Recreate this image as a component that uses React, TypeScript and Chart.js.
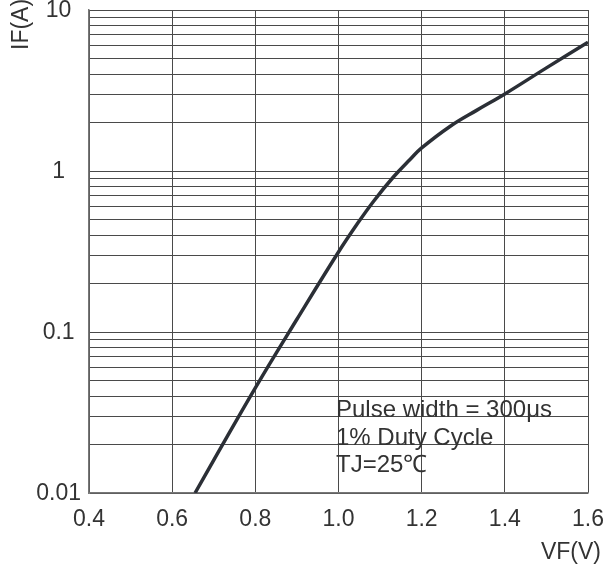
import React, { useEffect, useRef } from "react";
import { Chart, registerables } from "chart.js";

Chart.register(...registerables);

const vfValues = [0.655, 0.7, 0.8, 0.9, 1.0, 1.044, 1.084, 1.132, 1.172, 1.2, 1.268, 1.332, 1.4, 1.5, 1.6];
const ifValues = [0.01, 0.016, 0.045, 0.12, 0.314, 0.465, 0.647, 0.918, 1.18, 1.39, 1.89, 2.38, 3.01, 4.37, 6.3];

const xTickValues = [0.4, 0.6, 0.8, 1.0, 1.2, 1.4, 1.6];
const yMajorValues = [0.01, 0.1, 1, 10];
const yMajorLabels = ["0.01", "0.1", "1", "10"];
const noteLines = ["Pulse width = 300μs", "1% Duty Cycle", "TJ=25℃"];
const xAxisTitle = "VF(V)";
const yAxisTitle = "IF(A)";

const FONT = "'Liberation Sans', Arial, sans-serif";
const TEXT = "#333333";
const GRID = "#4a4a4a";

function buildYTicks() {
  const out: { value: number }[] = [];
  for (let e = -2; e <= 0; e++) {
    for (let m = 1; m <= 9; m++) {
      out.push({ value: parseFloat((m * Math.pow(10, e)).toPrecision(3)) });
    }
  }
  out.push({ value: 10 });
  return out;
}

const textPlugin = {
  id: "textPlugin",
  afterDraw(chart: any) {
    const ctx = chart.ctx;
    ctx.save();
    ctx.fillStyle = TEXT;
    ctx.textBaseline = "alphabetic";
    ctx.font = `24px ${FONT}`;
    ctx.textAlign = "left";
    noteLines.forEach((t, i) => {
      ctx.fillText(t, 336, 417 + i * 27.5);
    });
    ctx.font = `23px ${FONT}`;
    ctx.textAlign = "right";
    ctx.fillText(xAxisTitle, 601, 559);
    ctx.translate(28, 50);
    ctx.rotate(-Math.PI / 2);
    ctx.textAlign = "left";
    ctx.fillText(yAxisTitle, 0, 0);
    ctx.restore();
  },
};

export default function App() {
  const ref = useRef<HTMLCanvasElement | null>(null);
  useEffect(() => {
    if (!ref.current) return;
    const chart = new Chart(ref.current, {
      type: "line",
      data: {
        datasets: [
          {
            data: vfValues.map((v, i) => ({ x: v, y: ifValues[i] })),
            borderColor: "#2b2f36",
            borderWidth: 3.5,
            pointRadius: 0,
            tension: 0.4,
            fill: false,
          },
        ],
      },
      options: {
        responsive: false,
        animation: false,
        events: [],
        layout: { padding: { top: 10, right: 19, bottom: 0, left: 0 } },
        plugins: { legend: { display: false }, tooltip: { enabled: false } },
        scales: {
          x: {
            type: "linear",
            min: 0.4,
            max: 1.6,
            afterBuildTicks: (s: any) => {
              s.ticks = xTickValues.map((v) => ({ value: v }));
            },
            ticks: {
              color: TEXT,
              font: { family: FONT, size: 23 },
              padding: 13,
              maxRotation: 0,
              autoSkip: false,
              callback: (v: any) => Number(v).toFixed(1),
            },
            grid: { color: GRID, lineWidth: 1, drawTicks: false },
            border: { display: true, color: "#777", width: 1.5 },
            afterFit: (s: any) => {
              s.height = 71;
              s.paddingLeft = 0;
              s.paddingRight = 0;
            },
          },
          y: {
            type: "logarithmic",
            min: 0.01,
            max: 10,
            afterBuildTicks: (s: any) => {
              s.ticks = buildYTicks();
            },
            ticks: {
              color: TEXT,
              font: { family: FONT, size: 23 },
              padding: 8,
              labelOffset: 1,
              crossAlign: "center",
              autoSkip: false,
              callback: (v: any) => {
                const idx = yMajorValues.findIndex(
                  (m) => Math.abs(Math.log10(Number(v)) - Math.log10(m)) < 1e-6
                );
                return idx >= 0 ? yMajorLabels[idx] : "";
              },
            },
            grid: { color: GRID, lineWidth: 1, drawTicks: false },
            border: { display: true, color: "#777", width: 1.5 },
            afterFit: (s: any) => {
              s.width = 89;
              s.paddingTop = 0;
              s.paddingBottom = 0;
            },
          },
        },
      } as any,
      plugins: [textPlugin],
    });
    return () => chart.destroy();
  }, []);
  return (
    <div style={{ position: "absolute", left: 0, top: 0, width: 607, height: 564, background: "#fff" }}>
      <canvas ref={ref} width={607} height={564} style={{ display: "block" }} />
    </div>
  );
}
